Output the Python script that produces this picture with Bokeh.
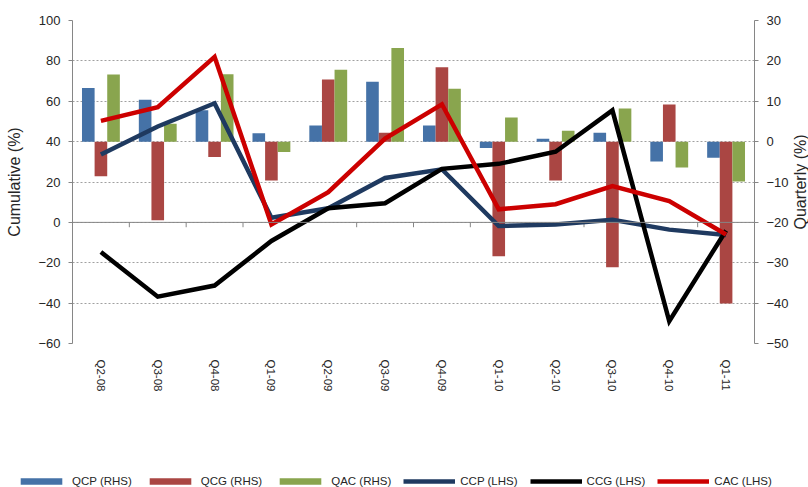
import math
from bokeh.plotting import figure
from bokeh.layouts import column, row
from bokeh.models import (FactorRange, Range1d, LinearAxis, FixedTicker, Span,
                          Legend, LegendItem, ColumnDataSource)
from bokeh.core.properties import value
from bokeh.transform import dodge
from bokeh.embed import file_html
from bokeh.resources import INLINE

quarters = ["Q2-08", "Q3-08", "Q4-08", "Q1-09", "Q2-09", "Q3-09",
            "Q4-09", "Q1-10", "Q2-10", "Q3-10", "Q4-10", "Q1-11"]
# Quarterly series (right-hand scale, %)
qcp = [13.3, 10.4, 7.8, 2.1, 4.0, 14.8, 4.0, -1.6, 0.7, 2.2, -4.9, -4.0]
qcg = [-8.6, -19.5, -3.8, -9.6, 15.4, 2.2, 18.4, -28.4, -9.6, -31.1, 9.2, -40.1]
qac = [16.6, 4.4, 16.7, -2.6, 17.8, 23.2, 13.1, 6.0, 2.7, 8.2, -6.4, -9.9]
# Cumulative series (left-hand scale, %)
ccp = [33.6, 47.5, 59.0, 2.3, 7.0, 22.0, 26.3, -1.8, -1.0, 1.3, -3.6, -6.3]
ccg = [-14.7, -36.8, -31.3, -9.2, 7.0, 9.5, 26.5, 29.0, 35.0, 55.5, -49.0, -4.0]
cac = [50.3, 57.0, 82.0, -1.0, 15.0, 41.5, 58.5, 6.5, 9.0, 18.0, 10.5, -6.0]

left_ticks = [-60, -40, -20, 0, 20, 40, 60, 80, 100]
right_ticks = [-50, -40, -30, -20, -10, 0, 10, 20, 30]

series = [("QCP (RHS)", "#4572A7"), ("QCG (RHS)", "#AA4643"), ("QAC (RHS)", "#89A54E"),
          ("CCP (LHS)", "#1F3A60"), ("CCG (LHS)", "#000000"), ("CAC (LHS)", "#CC0000")]
right_title = "Quarterly (%)"

src = ColumnDataSource(dict(q=quarters, qcp=qcp, qcg=qcg, qac=qac,
                            ccp=ccp, ccg=ccg, cac=cac))

FONT = "Liberation Sans"
AX = "#868686"
TXT = "#262626"
H = 463
TOP, BOTTOM = 20, 120


def no_align(fig):
    if "frame_align" in fig.properties():
        fig.frame_align = False


p = figure(width=792, height=H, x_range=FactorRange(factors=quarters),
           y_range=Range1d(-60, 100), output_backend="svg",
           toolbar_location=None, min_border_left=72, min_border_right=38,
           min_border_top=TOP, min_border_bottom=BOTTOM)
no_align(p)
p.outline_line_color = None
p.extra_y_ranges = {"q": Range1d(-50, 30)}

# grid
p.xgrid.grid_line_color = None
p.ygrid.grid_line_color = "#a0a0a0"
p.ygrid.grid_line_dash = "2 2"
p.ygrid.grid_line_width = 1


def style_y(ax, tick_standoff):
    ax.major_label_text_font = FONT
    ax.major_label_text_font_size = "13px"
    ax.major_label_text_color = TXT
    ax.axis_line_color = AX
    ax.major_tick_line_color = AX
    ax.major_tick_out = 4
    ax.major_tick_in = 0
    ax.minor_tick_line_color = None
    ax.major_label_standoff = tick_standoff


# left axis
ly = p.yaxis[0]
ly.ticker = FixedTicker(ticks=left_ticks)
style_y(ly, 8)
ly.axis_label = "Cumulative (%)"
ly.axis_label_text_font = FONT
ly.axis_label_text_font_size = "16px"
ly.axis_label_text_font_style = "normal"
ly.axis_label_text_color = TXT
ly.axis_label_standoff = 12

# right axis (its title sits in the narrow strip to the right)
ry = LinearAxis(y_range_name="q", ticker=FixedTicker(ticks=right_ticks))
style_y(ry, 8)
p.add_layout(ry, "right")

# category axis
xa = p.xaxis[0]
xa.axis_line_color = None
xa.major_tick_line_color = None
xa.minor_tick_line_color = None
xa.major_label_orientation = "vertical"
xa.major_label_text_font = FONT
xa.major_label_text_font_size = "11.5px"
xa.major_label_text_color = TXT
xa.major_label_standoff = 10

# zero line of category axis with boundary ticks
p.add_layout(Span(location=0, dimension="width", line_color=AX, line_width=1))
p.segment(x0=dodge("q", -0.5, range=p.x_range), y0=0,
          x1=dodge("q", -0.5, range=p.x_range), y1=-2.4,
          source=src, line_color=AX, line_width=1)

w = 0.222
bar_cols = ["qcp", "qcg", "qac"]
line_cols = ["ccp", "ccg", "cac"]


def draw(fig, visible=True):
    rs = []
    for i, col in enumerate(bar_cols):
        rs.append(fig.vbar(x=dodge("q", (i - 1) * w, range=fig.x_range), top=col,
                           width=w, bottom=0, source=src, y_range_name="q",
                           fill_color=series[i][1], line_color=None,
                           visible=visible))
    for i, col in enumerate(line_cols):
        rs.append(fig.line(x="q", y=col, source=src, line_color=series[i + 3][1],
                           line_width=4.5, line_join="miter", visible=visible))
    return rs


draw(p)

# strip holding the right-hand axis title (reads bottom to top)
p3 = figure(width=16, height=H, x_range=Range1d(0, 1), y_range=p.y_range,
            x_axis_location=None, y_axis_location=None, output_backend="svg",
            toolbar_location=None, min_border_left=0, min_border_right=0,
            min_border_top=TOP, min_border_bottom=BOTTOM)
no_align(p3)
p3.grid.visible = False
p3.outline_line_color = None
mid = (p.y_range.start + p.y_range.end) / 2
p3.text(x=[0.5], y=[mid], text=[right_title], angle=math.pi / 2,
        text_align="center", text_baseline="middle",
        text_font=value(FONT), text_font_size="16px", text_color=TXT)

# legend strip below the chart
p2 = figure(width=808, height=24, x_range=p.x_range, y_range=Range1d(-60, 100),
            x_axis_location=None, y_axis_location=None,
            output_backend="svg", toolbar_location=None,
            min_border_left=0, min_border_right=0, min_border_top=0,
            min_border_bottom=0)
no_align(p2)
p2.extra_y_ranges = {"q": Range1d(-50, 30)}
p2.grid.visible = False
p2.outline_line_color = None
rs2 = draw(p2, visible=False)

legend = Legend(items=[LegendItem(label=series[i][0], renderers=[rs2[i]])
                       for i in range(6)],
                orientation="horizontal", location=(15, 0),
                glyph_width=52, glyph_height=8, label_standoff=5, spacing=12,
                padding=0, margin=0, border_line_alpha=0,
                background_fill_alpha=0, label_text_font=FONT,
                label_text_font_size="11.5px", label_text_color=TXT,
                label_height=12, inactive_fill_alpha=0)
p2.add_layout(legend, "center")

layout = column(row(p, p3, spacing=0), p2, spacing=0)
open("out.html", "w").write(file_html(layout, INLINE))
